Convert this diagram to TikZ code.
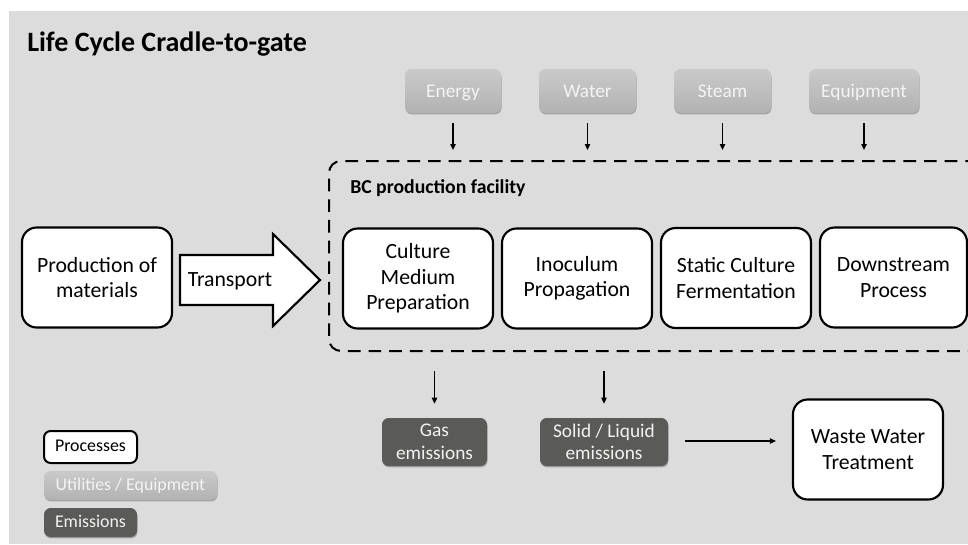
\documentclass[tikz,border=0pt]{standalone}
\usepackage{fontspec}
\setmainfont{Carlito}
\usetikzlibrary{arrows.meta,shadows}

\definecolor{bggray}{HTML}{DCDCDC}
\definecolor{utiltop}{HTML}{CACACA}
\definecolor{utilbot}{HTML}{B2B2B2}
\definecolor{utiltext}{HTML}{F4F4F4}
\definecolor{emisfill}{HTML}{5A5A59}
\definecolor{emistext}{HTML}{F2F2F2}

\newcommand\procfont{\fontsize{16.3}{19.2}\selectfont}
\newcommand\smallfont{\fontsize{14.5}{17}\selectfont}
\newcommand\legfont{\fontsize{13.4}{16}\selectfont}

\tikzset{
  proc/.style={draw=black, line width=1.6pt, fill=white, rounded corners=11pt,
    minimum width=112.5pt, minimum height=75pt, align=center, inner sep=0pt,
    font=\procfont},
  softshadow/.style={drop shadow={shadow xshift=0.4pt, shadow yshift=-1.1pt,
    opacity=0.25, fill=black}},
  legline/.style={text height=0.8em, text depth=0.1em},
  util/.style={rounded corners=5pt, top color=utiltop, bottom color=utilbot,
    text=utiltext, font=\smallfont, inner sep=0pt, minimum height=33pt,
    text height=0.95em, text depth=0.05em, softshadow},
  emis/.style={rounded corners=5pt, fill=emisfill, text=emistext,
    font=\smallfont, align=center, inner sep=0pt, minimum height=36pt,
    softshadow},
  arr/.style={-{Triangle[length=4.5pt,width=4pt]}, line width=0.95pt},
  facilitybox/.style={draw=black, line width=1.5pt, rounded corners=9pt,
    dash pattern=on 9.5pt off 6pt, inner sep=0pt},
}

\begin{document}
\begin{tikzpicture}[x=0.75pt,y=-0.75pt]
  \useasboundingbox (0,0) rectangle (968,544);
  \fill[bggray] (9,11) rectangle (968,544);

  % title
  \node[anchor=base west, font=\fontsize{21}{25}\selectfont\bfseries, inner sep=0pt]
    (title) at (27,51) {Life Cycle Cradle-to-gate};

  % utilities
  \node[util, minimum width=72pt]    (energy) at (453,91)   {Energy};
  \node[util, minimum width=72.75pt] (water)  at (587.5,91) {Water};
  \node[util, minimum width=72.75pt] (steam)  at (722.5,91) {Steam};
  \node[util, minimum width=82.5pt]  (equip)  at (864,91)   {Equipment};

  % production facility frame
  \node[facilitybox, minimum width=495.75pt, minimum height=142.5pt]
    (facility) at (659.5,256) {};
  \node[anchor=base west, font=\fontsize{14.8}{17}\selectfont\bfseries, inner sep=0pt]
    (faclabel) at (350,193) {BC production facility};

  \foreach \u in {energy,water,steam,equip}
    \draw[arr, shorten <=7.5pt, shorten >=7.5pt] (\u.south) -- (\u.south |- facility.north);

  % processes
  \node[proc] (prod)    at (97,277.5)  {Production of\\materials};
  \node[proc] (culture) at (418,278.5) {Culture\\Medium\\Preparation};
  \node[proc] (inoc)    at (577,278.5) {Inoculum\\Propagation};
  \node[proc] (static)  at (736,278)   {Static Culture\\Fermentation};
  \node[proc, minimum width=110.25pt] (down) at (893.5,277.5) {Downstream\\Process};

  % transport block arrow
  \draw[line width=1.6pt, fill=white, line join=miter]
    (180,255) -- (273,255) -- (273,234) -- (320,280) -- (273,326) -- (273,305)
    -- (180,305) -- cycle;
  \node[font=\procfont, inner sep=0pt] (transport) at (230,281) {Transport};

  % emissions
  \node[emis, minimum width=78.75pt] (gas)   at (434.5,442) {Gas\\emissions};
  \node[emis, minimum width=96pt]    (solid) at (604,442)   {Solid / Liquid\\emissions};
  \node[proc] (waste) at (868,449.5) {Waste Water\\Treatment};

  \draw[arr, shorten <=14.25pt, shorten >=10.5pt] (gas.north |- facility.south) -- (gas.north);
  \draw[arr, shorten <=14.25pt, shorten >=10.5pt] (solid.north |- facility.south) -- (solid.north);
  \draw[arr, shorten <=12.75pt, shorten >=12pt] ([yshift=0.75pt]solid.east) -- ([yshift=0.75pt]solid.east -| waste.west);

  % legend
  \node[proc, rounded corners=5pt, minimum width=69.75pt, minimum height=24pt,
    font=\legfont, line width=1.5pt, text height=0.75em, text depth=0.15em]
    (legproc) at (90.5,447) {Processes};
  \node[util, minimum width=129.75pt, minimum height=21.75pt, font=\legfont, legline]
    (legutil) at (130.5,485.5) {Utilities / Equipment};
  \node[emis, minimum width=69.75pt, minimum height=21.75pt, font=\legfont, legline]
    (legemis) at (90.5,522.5) {Emissions};
\end{tikzpicture}
\end{document}
